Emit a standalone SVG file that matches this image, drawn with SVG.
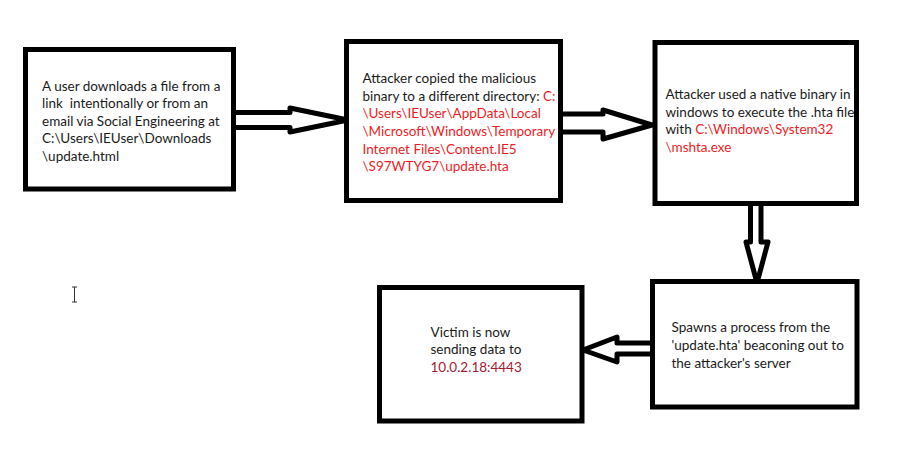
<svg xmlns="http://www.w3.org/2000/svg" width="900" height="455" viewBox="0 0 900 455">
<style>
.box{fill:#fff;stroke:#000;stroke-width:5}
.arr{fill:#fff;stroke:#000;stroke-width:5;stroke-linejoin:round;stroke-linecap:round}
text{font-family:Lato,"Liberation Sans",sans-serif;font-size:13.5px;fill:#1a1a1a}
.red{fill:#ee1c25}
.ip{fill:#a8182e}
</style>
<rect width="900" height="455" fill="#fff"/>
<g id="connectors">
<path class="arr" d="M236,112.5 H290 V108 L348,120 L290,132 V127.5 H236"/>
<path class="arr" d="M562,114 H603 V110 L652,125 L603,139 V132 H562"/>
<path class="arr" d="M750.5,204 V242 H746 L757,283 L768,242 H761 V204"/>
<path class="arr" d="M650,343 H617 V337 L583,350 L617,362 V354 H650"/>
</g>
<g id="n1">
<rect class="box" x="25.5" y="49.5" width="208" height="139.5"/>
<text x="42" y="90.5">A user downloads a file from a</text>
<text x="42" y="108" xml:space="preserve">link  intentionally or from an</text>
<text x="42" y="125.5">email via Social Engineering at</text>
<text x="42" y="143">C:\Users\IEUser\Downloads</text>
<text x="42" y="160.5">\update.html</text>
</g>
<g id="n2">
<rect class="box" x="346.5" y="41.5" width="214" height="159"/>
<text x="362.5" y="83.3">Attacker copied the malicious</text>
<text x="362.5" y="100.8">binary to a different directory: <tspan class="red">C:</tspan></text>
<text class="red" x="362.5" y="118.4">\Users\IEUser\AppData\Local</text>
<text class="red" x="362.5" y="136">\Microsoft\Windows\Temporary</text>
<text class="red" x="362.5" y="153.6">Internet Files\Content.IE5</text>
<text class="red" x="362.5" y="171.2">\S97WTYG7\update.hta</text>
</g>
<g id="n3">
<rect class="box" x="655" y="42.5" width="201.5" height="161"/>
<text x="665.5" y="99">Attacker used a native binary in</text>
<text x="665.5" y="116.7">windows to execute the .hta file</text>
<text x="665.5" y="134.4">with <tspan class="red">C:\Windows\System32</tspan></text>
<text class="red" x="665.5" y="152.1">\mshta.exe</text>
</g>
<g id="n4">
<rect class="box" x="379.5" y="287.5" width="202.5" height="133.5"/>
<text x="430.5" y="336.7">Victim is now</text>
<text x="430.5" y="354.2">sending data to</text>
<text class="ip" x="430.5" y="371.7">10.0.2.18:4443</text>
</g>
<g id="n5">
<rect class="box" x="652.5" y="281.5" width="204.5" height="125.5"/>
<text x="671.5" y="332.3">Spawns a process from the</text>
<text x="671.5" y="350">'update.hta' beaconing out to</text>
<text x="671.5" y="367.7">the attacker's server</text>
</g>
<g id="cursor" stroke="#333" stroke-width="1" fill="none">
<path d="M74.5,287 V302 M72,287 H77 M72,302 H77"/>
</g>
</svg>
